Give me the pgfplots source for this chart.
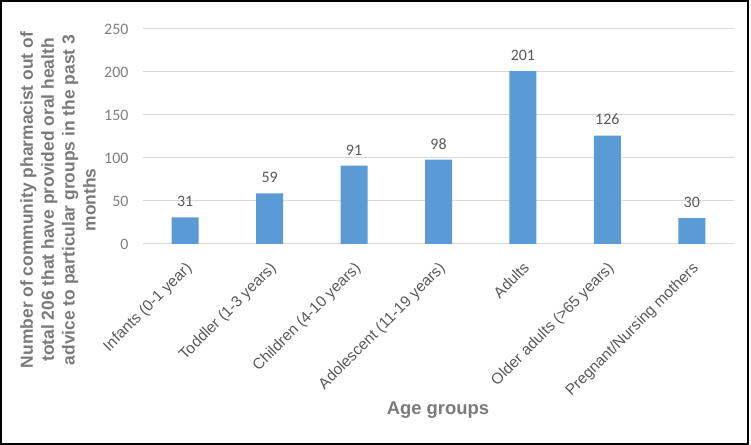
\documentclass[border=0pt]{standalone}
\usepackage{pgfplots}
\pgfplotsset{compat=1.18}
\usepackage{fontspec}
\setmainfont{Liberation Sans}
\newfontfamily\calibri{Carlito}
\definecolor{barblue}{HTML}{5B9BD5}
\definecolor{gridgray}{HTML}{D9D9D9}
\definecolor{ticktext}{HTML}{7F7F7F}
\definecolor{labtext}{HTML}{595959}
\definecolor{titletext}{HTML}{7A7A7A}
\begin{document}
\begin{tikzpicture}[x=1bp,y=1bp]
\useasboundingbox (0,0) rectangle (751,445);
\begin{axis}[
  at={(143bp,201bp)}, anchor=south west,
  scale only axis, width=591bp, height=215bp,
  xmin=-0.5, xmax=6.5, ymin=0, ymax=250,
  ytick={0,50,100,150,200,250},
  xtick={0,1,2,3,4,5,6},
  xticklabels={Infants (0-1 year),Toddler (1-3 years),Children (4-10 years),Adolescent (11-19 years),Adults,Older adults (>65 years),Pregnant/Nursing mothers},
  axis line style={draw=none},
  major tick length=0pt,
  ymajorgrids, grid style={gridgray, line width=1bp},
  /pgf/number format/assume math mode=true,
  yticklabel style={font=\calibri\fontsize{16}{19}\selectfont, text=ticktext, xshift=-11bp},
  xticklabel style={font=\fontsize{15.5}{18}\selectfont, text=labtext, rotate=45, anchor=north east, xshift=-9bp, yshift=-8bp},
  ybar, bar width=27bp,
  nodes near coords,
  nodes near coords style={font=\calibri\fontsize{16}{19}\selectfont, text=labtext, yshift=7bp},
]
\addplot[ybar, fill=barblue, draw=none, mark=none] coordinates {(0,31) (1,59) (2,91) (3,98) (4,201) (5,126) (6,30)};
\end{axis}
\node[rotate=90, align=center, font=\bfseries\fontsize{17.5}{21}\selectfont, text=titletext] at (58,245) {Number of community pharmacist out of\\total 206 that have provided oral health\\advice to particular groups in the past 3\\months};
\node[font=\bfseries\fontsize{18.5}{22}\selectfont, text=titletext] at (438,35) {Age groups};
\draw[black, line width=2bp] (1,1) rectangle (748,444);
\end{tikzpicture}
\end{document}
